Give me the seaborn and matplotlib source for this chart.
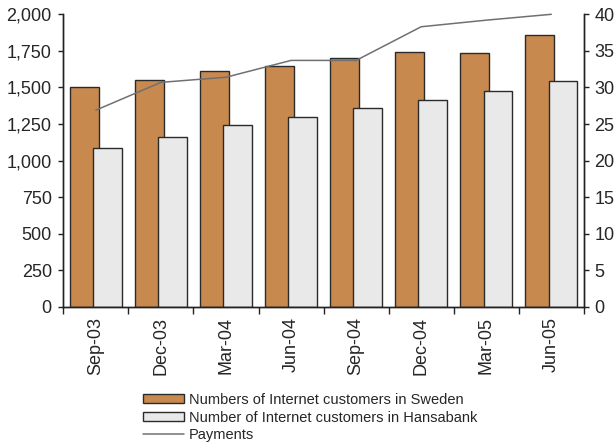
import numpy as np
import pandas as pd
import seaborn as sns
import matplotlib
matplotlib.use("Agg")
import matplotlib.pyplot as plt
from matplotlib.patches import Patch
from matplotlib.lines import Line2D
from matplotlib.ticker import FuncFormatter, FixedLocator

quarters = ["Sep-03", "Dec-03", "Mar-04", "Jun-04", "Sep-04", "Dec-04", "Mar-05", "Jun-05"]
sweden = [1500, 1550, 1610, 1650, 1700, 1740, 1735, 1860]
hansabank = [1085, 1160, 1245, 1300, 1360, 1415, 1475, 1545]
payments = [26.9, 30.7, 31.4, 33.7, 33.7, 38.3, 39.2, 40.0]

lab_sweden = "Numbers of Internet customers in Sweden"
lab_hansa = "Number of Internet customers in Hansabank"
lab_pay = "Payments"

col_sweden = "#C8894F"
col_hansa = "#E9E9E9"
col_edge = "#2a2a2a"
col_line = "#707070"

sns.set_style("white")
plt.rcParams["font.family"] = ["Liberation Sans", "DejaVu Sans"]

long = pd.DataFrame({
    "quarter": quarters * 2,
    "value": sweden + hansabank,
    "series": [lab_sweden] * len(quarters) + [lab_hansa] * len(quarters),
})

fig = plt.figure(figsize=(6.16, 4.43), dpi=100)
ax = fig.add_axes([0.1028, 0.307, 0.845, 0.6607])

sns.barplot(data=long, x="quarter", y="value", hue="series",
            palette=[col_sweden, col_hansa], saturation=1,
            width=0.72, gap=-0.23, edgecolor=col_edge, linewidth=1.0,
            legend=False, ax=ax, err_kws={"linewidth": 0})

ax.set_xlim(-0.5, len(quarters) - 0.5)
ax.set_ylim(0, 2000)
ax.set_yticks(np.arange(0, 2001, 250))
ax.yaxis.set_major_formatter(FuncFormatter(lambda v, p: f"{int(v):,}"))
ax.set_xlabel("")
ax.set_ylabel("")

pos = np.arange(len(quarters))
ax2 = ax.twinx()
sns.lineplot(x=pos, y=payments, ax=ax2, color=col_line, linewidth=1.1)
for l in ax2.lines:
    l.set_clip_on(False)
ax2.set_ylim(0, 40)
ax2.set_yticks(np.arange(0, 41, 5))
ax2.set_ylabel("")

for a in (ax, ax2):
    a.spines["top"].set_visible(False)
    for s in ("left", "right", "bottom"):
        a.spines[s].set_color("#222222")
        a.spines[s].set_linewidth(1.0)

ax.set_xticks(pos)
ax.set_xticklabels(quarters, rotation=90, fontsize=13)
ax.xaxis.set_minor_locator(FixedLocator(np.arange(-0.5, len(quarters), 1.0)))
ax.tick_params(axis="x", which="major", length=0, pad=7)
ax.tick_params(axis="x", which="minor", length=5, width=1.0, color="#222222", bottom=True)
ax.tick_params(axis="y", which="major", length=3.6, width=1.0, color="#222222",
               labelsize=13, pad=4.7, left=True)
ax2.tick_params(axis="y", which="major", length=3.6, width=1.0, color="#222222",
                labelsize=13, pad=4, right=True)

handles = [
    Patch(facecolor=col_sweden, edgecolor=col_edge, linewidth=1.0),
    Patch(facecolor=col_hansa, edgecolor=col_edge, linewidth=1.0),
    Line2D([0], [0], color=col_line, linewidth=1.1),
]
fig.legend(handles, [lab_sweden, lab_hansa, lab_pay], loc="upper left",
           bbox_to_anchor=(0.2317, 0.113), frameon=False, fontsize=10.5,
           borderpad=0, borderaxespad=0, handlelength=2.86, handleheight=0.6,
           handletextpad=0.3, labelspacing=0.25)

fig.savefig("out.png", dpi=100)
